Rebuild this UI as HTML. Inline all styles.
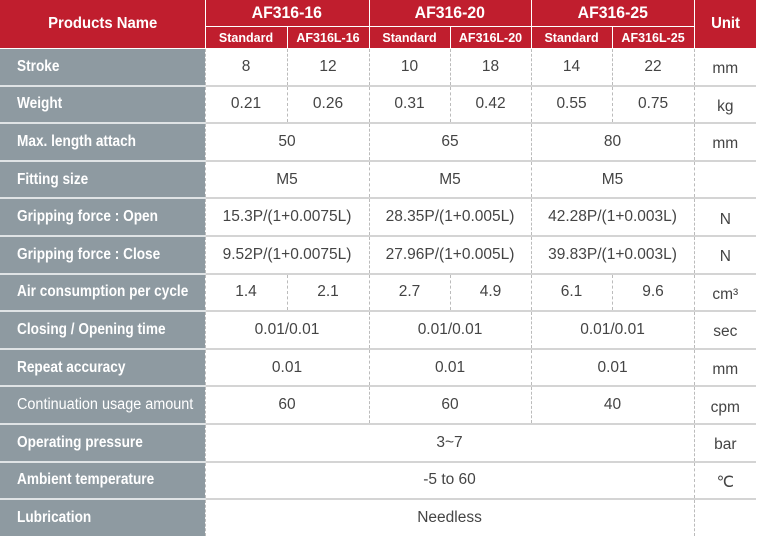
<!DOCTYPE html>
<html><head><meta charset="utf-8"><style>
html,body{margin:0;padding:0;background:#fff;width:777px;height:538px;overflow:hidden}
table{border-collapse:collapse;table-layout:fixed;width:756px;font-family:"Liberation Sans",sans-serif;}
th{background:#c01e2e;color:#fff;font-weight:bold;border-left:1px solid #fff;border-bottom:1px solid #fff;padding:0;text-align:center}
th.big{font-size:17px;height:26px}
th.sub{font-size:12.5px;height:21px}
th.pn{border-left:none;font-size:16px}
th span{display:inline-block;transform:scaleX(0.93)}
td{height:35.6px;padding:0;text-align:center;color:#444;font-size:15.5px;border-bottom:2px solid #d4d4d4;border-left:1px dashed #bbb}
td.l{background:#8e9aa1;color:#fff;text-align:left;padding-left:17px;border-left:none;border-bottom:2px solid #dfe3e5;font-size:15.5px;white-space:nowrap;overflow:hidden}
td.l span{display:inline-block;transform:scaleX(0.88);transform-origin:left center;font-weight:bold}
td.l span.n{font-weight:normal;transform:scaleX(0.93)}
td.u{padding-top:5px;height:30.6px}
tr:last-child td{border-bottom:none}
</style></head><body>
<table>
<colgroup><col style="width:205px"><col style="width:82px"><col style="width:82px"><col style="width:81px"><col style="width:81px"><col style="width:81px"><col style="width:82px"><col style="width:62px"></colgroup>
<tr><th class="pn" rowspan="2"><span>Products Name</span></th><th class="big" colspan="2"><span>AF316-16</span></th><th class="big" colspan="2"><span>AF316-20</span></th><th class="big" colspan="2"><span>AF316-25</span></th><th class="pn" rowspan="2" style="border-left:1px solid #fff"><span>Unit</span></th></tr>
<tr><th class="sub">Standard</th><th class="sub">AF316L-16</th><th class="sub">Standard</th><th class="sub">AF316L-20</th><th class="sub">Standard</th><th class="sub">AF316L-25</th></tr>
<tr><td class="l"><span>Stroke</span></td><td>8</td><td>12</td><td>10</td><td>18</td><td>14</td><td>22</td><td class="u">mm</td></tr>
<tr><td class="l"><span>Weight</span></td><td>0.21</td><td>0.26</td><td>0.31</td><td>0.42</td><td>0.55</td><td>0.75</td><td class="u">kg</td></tr>
<tr><td class="l"><span>Max. length attach</span></td><td colspan="2">50</td><td colspan="2">65</td><td colspan="2">80</td><td class="u">mm</td></tr>
<tr><td class="l"><span>Fitting size</span></td><td colspan="2">M5</td><td colspan="2">M5</td><td colspan="2">M5</td><td></td></tr>
<tr><td class="l"><span>Gripping force : Open</span></td><td colspan="2">15.3P/(1+0.0075L)</td><td colspan="2">28.35P/(1+0.005L)</td><td colspan="2">42.28P/(1+0.003L)</td><td class="u">N</td></tr>
<tr><td class="l"><span>Gripping force : Close</span></td><td colspan="2">9.52P/(1+0.0075L)</td><td colspan="2">27.96P/(1+0.005L)</td><td colspan="2">39.83P/(1+0.003L)</td><td class="u">N</td></tr>
<tr><td class="l"><span>Air consumption per cycle</span></td><td>1.4</td><td>2.1</td><td>2.7</td><td>4.9</td><td>6.1</td><td>9.6</td><td class="u">cm³</td></tr>
<tr><td class="l"><span>Closing / Opening time</span></td><td colspan="2">0.01/0.01</td><td colspan="2">0.01/0.01</td><td colspan="2">0.01/0.01</td><td class="u">sec</td></tr>
<tr><td class="l"><span>Repeat accuracy</span></td><td colspan="2">0.01</td><td colspan="2">0.01</td><td colspan="2">0.01</td><td class="u">mm</td></tr>
<tr><td class="l"><span class="n">Continuation usage amount</span></td><td colspan="2">60</td><td colspan="2">60</td><td colspan="2">40</td><td class="u">cpm</td></tr>
<tr><td class="l"><span>Operating pressure</span></td><td colspan="6">3~7</td><td class="u">bar</td></tr>
<tr><td class="l"><span>Ambient temperature</span></td><td colspan="6">-5 to 60</td><td class="u">℃</td></tr>
<tr><td class="l"><span>Lubrication</span></td><td colspan="6">Needless</td><td></td></tr>
</table>
</body></html>
